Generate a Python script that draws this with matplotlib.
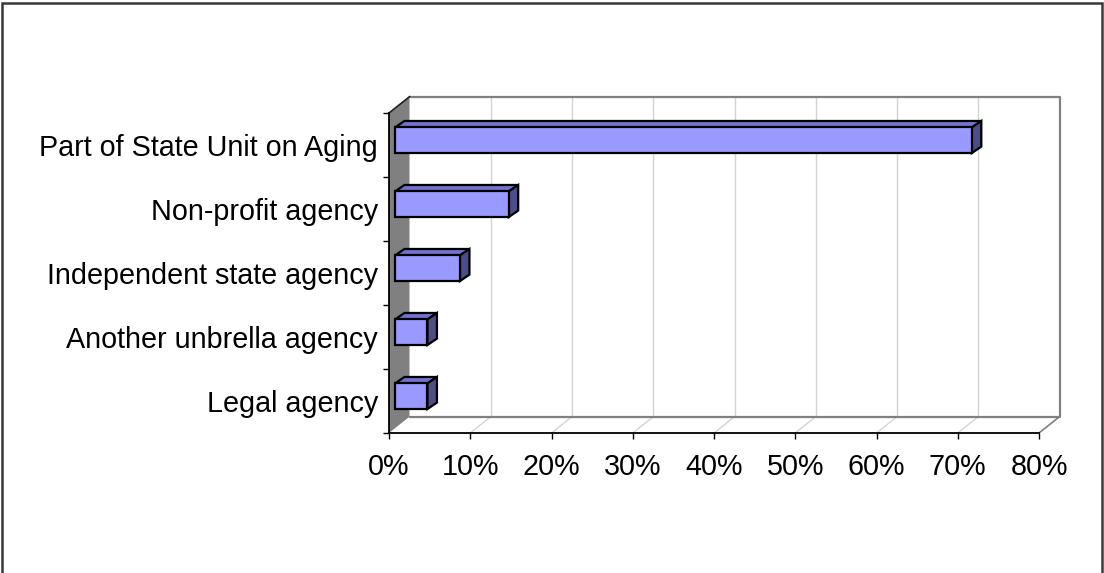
import matplotlib
matplotlib.use("Agg")
import matplotlib.pyplot as plt
from matplotlib.patches import Polygon, Rectangle

# Share of state programs by organizational placement (%)
categories = [
    "Part of State Unit on Aging",
    "Non-profit agency",
    "Independent state agency",
    "Another unbrella agency",
    "Legal agency",
]
values = [71, 14, 8, 4, 4]
xticks = [0, 10, 20, 30, 40, 50, 60, 70, 80]
xtick_labels = ["0%", "10%", "20%", "30%", "40%", "50%", "60%", "70%", "80%"]

W, H, DPI = 1104, 573, 100
plt.rcParams["font.family"] = ["Liberation Sans", "DejaVu Sans"]

fig = plt.figure(figsize=(W / DPI, H / DPI), dpi=DPI)
fig.patch.set_facecolor("white")

# Outer chart-area frame
fig.add_artist(Rectangle((1.5 / W, -0.02), 1100.5 / W, (H - 2.5) / H + 0.02,
                         transform=fig.transFigure, fill=False,
                         edgecolor="#383838", linewidth=1.8))

# Front plane of the plot area
left_px, right_px, bottom_px, top_px = 389, 1039, 433, 113
ax = fig.add_axes([left_px / W, 1 - bottom_px / H,
                   (right_px - left_px) / W, (bottom_px - top_px) / H])
n = len(categories)
xmin, xmax = 0, 80
ymin, ymax = -0.5, n - 0.5
ax.set_xlim(xmin, xmax)
ax.set_ylim(ymin, ymax)
for s in ax.spines.values():
    s.set_visible(False)
ax.patch.set_visible(False)

px_x = (right_px - left_px) / (xmax - xmin)   # pixels per percent
px_y = (bottom_px - top_px) / (ymax - ymin)   # pixels per category

# 3-D depth of the walls and of the bars, in data units
wall_dx, wall_dy = 20.5 / px_x, 16.3 / px_y
bar_f0 = 0.29                      # depth of the bar front face
bar_dx, bar_dy = 9.5 / px_x, 6.5 / px_y
bar_h = 0.4

grid_c = "#d4d4d4"
wall_c = "#808080"

# Back wall gridlines and floor gridlines
for xv in xticks[1:-1]:
    ax.plot([xv + wall_dx, xv + wall_dx], [ymin + wall_dy, ymax + wall_dy],
            color=grid_c, lw=1.0, clip_on=False, zorder=1)
    ax.plot([xv, xv + wall_dx], [ymin, ymin + wall_dy],
            color=grid_c, lw=1.0, clip_on=False, zorder=1)

# Back wall border and floor edges
ax.plot([xmin + wall_dx, xmax + wall_dx, xmax + wall_dx, xmin + wall_dx],
        [ymax + wall_dy, ymax + wall_dy, ymin + wall_dy, ymin + wall_dy],
        color=wall_c, lw=1.6, clip_on=False, zorder=2)
ax.plot([xmax, xmax + wall_dx], [ymin, ymin + wall_dy],
        color=wall_c, lw=1.2, clip_on=False, zorder=2)

# Grey side wall
ax.add_patch(Polygon([(xmin, ymin), (xmin + wall_dx, ymin + wall_dy),
                      (xmin + wall_dx, ymax + wall_dy), (xmin, ymax)],
                     closed=True, facecolor=wall_c, edgecolor="none",
                     clip_on=False, zorder=3))
ax.plot([xmin, xmin + wall_dx], [ymax, ymax + wall_dy],
        color="#202020", lw=1.2, clip_on=False, zorder=4)

# Axes lines
ax.plot([xmin, xmax], [ymin, ymin], color="black", lw=1.3, clip_on=False, zorder=4)
ax.plot([xmin, xmin], [ymin, ymax], color="black", lw=1.3, clip_on=False, zorder=4)

# Bars
front_c, top_c, side_c = "#9999ff", "#7373cc", "#4d4d88"
edge_kw = dict(edgecolor="black", linewidth=1.6, joinstyle="miter",
               clip_on=False, zorder=5)
for i, (cat, v) in enumerate(zip(categories, values)):
    yc = n - 1 - i
    x0 = xmin + bar_f0 * wall_dx
    yb = yc - bar_h / 2 + bar_f0 * wall_dy
    yt = yb + bar_h
    x1 = x0 + v
    ax.add_patch(Polygon([(x0, yt), (x1, yt), (x1 + bar_dx, yt + bar_dy),
                          (x0 + bar_dx, yt + bar_dy)], closed=True,
                         facecolor=top_c, **edge_kw))
    ax.add_patch(Polygon([(x1, yb), (x1 + bar_dx, yb + bar_dy),
                          (x1 + bar_dx, yt + bar_dy), (x1, yt)], closed=True,
                         facecolor=side_c, **edge_kw))
    ax.add_patch(Rectangle((x0, yb), v, bar_h, facecolor=front_c, **edge_kw))

# Ticks and labels
ax.set_xticks(xticks)
ax.set_xticklabels(xtick_labels)
ax.set_yticks([n - 1 - i for i in range(n)])
ax.set_yticklabels(categories)
ax.set_yticks([k - 0.5 for k in range(n + 1)], minor=True)
ax.tick_params(axis="x", which="major", direction="out", length=4.5, width=1.0,
               pad=10, labelsize=20.7, colors="black")
ax.tick_params(axis="y", which="major", length=0, pad=8, labelsize=20.7)
ax.tick_params(axis="y", which="minor", direction="out", length=4.5, width=1.0)

fig.savefig("out.png", dpi=DPI, facecolor="white")
